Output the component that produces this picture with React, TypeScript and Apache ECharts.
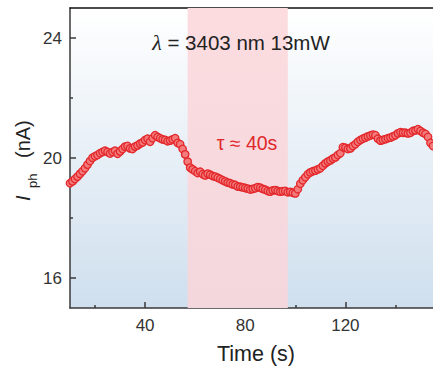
import React, { useEffect, useRef } from "react";
import * as echarts from "echarts";

// Photocurrent sampled every 1 s starting at t = 10 s (nA)
const timeStart = 10;
const timeStep = 1;
const photocurrent = [
  19.16, 19.22, 19.3, 19.38, 19.47, 19.56, 19.66, 19.78, 19.9, 20.01,
  20.06, 20.1, 20.16, 20.2, 20.24, 20.2, 20.15, 20.2, 20.24, 20.14,
  20.22, 20.3, 20.38, 20.4, 20.32, 20.3, 20.38, 20.42, 20.48, 20.52,
  20.6, 20.64, 20.54, 20.66, 20.76, 20.7, 20.66, 20.62, 20.6, 20.56,
  20.58, 20.62, 20.66, 20.5, 20.46, 20.3, 20.12, 19.88, 19.68, 19.62,
  19.56, 19.5, 19.54, 19.46, 19.42, 19.48, 19.44, 19.4, 19.38, 19.34,
  19.3, 19.26, 19.22, 19.18, 19.16, 19.12, 19.1, 19.05, 19.04, 19.02,
  19.0, 18.98, 18.95, 18.97, 18.99, 19.03, 19.01, 18.97, 18.94, 18.9,
  18.88, 18.92, 18.93, 18.9, 18.88, 18.89, 18.9, 18.86, 18.87, 18.84,
  18.82, 18.96, 19.14, 19.26, 19.36, 19.46, 19.52, 19.56, 19.58, 19.62,
  19.66, 19.74, 19.82, 19.88, 19.92, 19.98, 20.02, 20.1, 20.16, 20.36,
  20.34, 20.3, 20.32, 20.4, 20.46, 20.54, 20.6, 20.64, 20.68, 20.72,
  20.75, 20.78, 20.76, 20.64, 20.58, 20.6, 20.63, 20.66, 20.68, 20.72,
  20.76, 20.82, 20.86, 20.84, 20.84, 20.82, 20.84, 20.9, 20.92, 20.96,
  20.9, 20.84, 20.8, 20.7, 20.5, 20.4,
];

// Illumination window (s)
const lightOn = 57;
const lightOff = 97;

const xRange = [10, 155];
const yRange = [15, 25];
const xMajorTicks = [40, 80, 120];
const xMinorTicks = [20, 60, 100, 140];
const yMajorTicks = [16, 20, 24];
const yMinorTicks = [18, 22];

const titleText = "λ = 3403 nm 13mW";
const tauText = "τ ≈ 40s";
const xName = "Time (s)";

const FONT = "'Liberation Sans', Arial, sans-serif";

export default function App() {
  const ref = useRef<HTMLDivElement>(null);

  useEffect(() => {
    if (!ref.current) return;
    const chart = echarts.init(ref.current, null, { renderer: "svg" });
    const data = photocurrent.map((v, i) => [timeStart + i * timeStep, v]);

    const axisColor = "#3a3a3a";
    const baseX = {
      type: "value",
      min: xRange[0],
      max: xRange[1],
      splitLine: { show: false },
    };
    const baseY = {
      type: "value",
      min: yRange[0],
      max: yRange[1],
      splitLine: { show: false },
    };

    chart.setOption({
      animation: false,
      grid: {
        left: 70,
        top: 8,
        right: 0,
        bottom: 62,
        show: true,
        borderWidth: 0,
        backgroundColor: {
          type: "linear",
          x: 0,
          y: 0,
          x2: 0,
          y2: 1,
          colorStops: [
            { offset: 0, color: "#ffffff" },
            { offset: 1, color: "#cfdfee" },
          ],
        },
      },
      xAxis: [
        {
          ...baseX,
          position: "bottom",
          axisLine: { show: true, onZero: false, lineStyle: { color: axisColor, width: 1.5 } },
          axisTick: { show: true, inside: true, length: 6, customValues: xMajorTicks, lineStyle: { color: axisColor, width: 1.5 } },
          axisLabel: { show: true, customValues: xMajorTicks, margin: 9, fontSize: 17, color: "#333", fontFamily: FONT },
        },
        {
          ...baseX,
          position: "bottom",
          axisLine: { show: false, onZero: false },
          axisTick: { show: true, inside: true, length: 3, customValues: xMinorTicks, lineStyle: { color: axisColor, width: 1.5 } },
          axisLabel: { show: false },
        },
        {
          ...baseX,
          position: "top",
          axisLine: { show: true, onZero: false, lineStyle: { color: "#111", width: 1.5 } },
          axisTick: { show: false },
          axisLabel: { show: false },
        },
      ],
      yAxis: [
        {
          ...baseY,
          position: "left",
          axisLine: { show: true, onZero: false, lineStyle: { color: axisColor, width: 1.5 } },
          axisTick: { show: true, inside: true, length: 6, customValues: yMajorTicks, lineStyle: { color: axisColor, width: 1.5 } },
          axisLabel: { show: true, customValues: yMajorTicks, margin: 8, fontSize: 17, color: "#333", fontFamily: FONT },
        },
        {
          ...baseY,
          position: "left",
          axisLine: { show: false, onZero: false },
          axisTick: { show: true, inside: true, length: 3, customValues: yMinorTicks, lineStyle: { color: axisColor, width: 1.5 } },
          axisLabel: { show: false },
        },
      ],
      series: [
        {
          type: "scatter",
          xAxisIndex: 0,
          yAxisIndex: 0,
          data,
          symbol: "circle",
          symbolSize: 7.5,
          itemStyle: { color: "#f37b7b", borderColor: "#e3272b", borderWidth: 1.3, opacity: 1 },
          markArea: {
            silent: true,
            itemStyle: {
              color: {
                type: "linear",
                x: 0,
                y: 0,
                x2: 0,
                y2: 1,
                colorStops: [
                  { offset: 0, color: "#fcdcdf" },
                  { offset: 1, color: "#f3d7dd" },
                ],
              },
              opacity: 1,
            },
            data: [[{ xAxis: lightOn }, { xAxis: lightOff }]],
          },
          z: 3,
        },
      ],
      graphic: [
        {
          type: "text",
          x: 241,
          y: 42,
          z: 10,
          style: {
            text: "{l|λ}{t|" + titleText.slice(1) + "}",
            align: "center",
            verticalAlign: "middle",
            rich: {
              l: { fontFamily: "'Liberation Serif', serif", fontStyle: "italic", fontSize: 22, fill: "#222" },
              t: { fontFamily: FONT, fontSize: 20.5, fill: "#222" },
            },
          },
        },
        {
          type: "text",
          x: 247,
          y: 143,
          z: 10,
          style: {
            text: tauText,
            fontFamily: FONT,
            fontSize: 19.5,
            fill: "#e0282c",
            align: "center",
            verticalAlign: "middle",
          },
        },
        {
          type: "text",
          x: 256,
          y: 354,
          z: 10,
          style: {
            text: xName,
            fontFamily: FONT,
            fontSize: 21.5,
            fill: "#222",
            align: "center",
            verticalAlign: "middle",
          },
        },
        {
          type: "group",
          x: 23,
          y: 160,
          rotation: Math.PI / 2,
          z: 10,
          children: [
            {
              type: "text",
              x: -41,
              y: 0,
              style: { text: "I", fontFamily: FONT, fontStyle: "italic", fontSize: 20, fill: "#222", align: "left", verticalAlign: "middle" },
            },
            {
              type: "text",
              x: -28,
              y: 9,
              style: { text: "ph", fontFamily: FONT, fontSize: 13, fill: "#222", align: "left", verticalAlign: "middle" },
            },
            {
              type: "text",
              x: 2,
              y: 0,
              style: { text: "(nA)", fontFamily: FONT, fontSize: 20, fill: "#222", align: "left", verticalAlign: "middle" },
            },
          ],
        },
      ],
    });

    return () => chart.dispose();
  }, []);

  return (
    <div
      ref={ref}
      style={{ position: "fixed", left: 0, top: 0, width: 433, height: 370, background: "#fff" }}
    />
  );
}
